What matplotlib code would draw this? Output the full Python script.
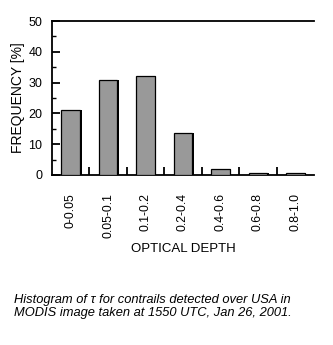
import matplotlib
matplotlib.use('Agg')
import matplotlib.pyplot as plt
import numpy as np

# histogram of optical depth for contrails
bins = ['0-0.05', '0.05-0.1', '0.1-0.2', '0.2-0.4', '0.4-0.6', '0.6-0.8', '0.8-1.0']
freq = [21, 31, 32, 13.5, 2, 0.5, 0.5]

plt.rcParams['font.family'] = ['Liberation Sans', 'DejaVu Sans']

fig = plt.figure(figsize=(3.33, 3.45), dpi=100)
ax = fig.add_axes([0.156, 0.493, 0.787, 0.446])

x = np.arange(len(bins))
# dark shadow on the right side of each bar
ax.bar(x + 0.04, freq, width=0.5, color='black', zorder=2)
ax.bar(x, freq, width=0.5, color='#999999', edgecolor='black', linewidth=0.9, zorder=3)

ax.set_xlim(-0.5, len(bins) - 0.5)
ax.set_ylim(0, 50)

ax.spines['right'].set_visible(False)
for s in ['left', 'top', 'bottom']:
    ax.spines[s].set_linewidth(1.3)

ax.set_yticks(np.arange(0, 51, 10))
ax.set_yticks(np.arange(5, 50, 10), minor=True)
ax.tick_params(axis='y', which='major', direction='in', length=6, width=1.3, labelsize=9, pad=7)
ax.tick_params(axis='y', which='minor', direction='in', length=3, width=1.0)

ax.set_xticks(x)
ax.set_xticklabels(bins, rotation=90, fontsize=8.7)
ax.set_xticks(x[:-1] + 0.5, minor=True)
ax.tick_params(axis='x', which='major', length=0, pad=13)
ax.tick_params(axis='x', which='minor', direction='in', length=6, width=1.3)
ax.tick_params(top=False)

ax.set_ylabel('FREQUENCY [%]', fontsize=10, labelpad=2)
ax.set_xlabel('OPTICAL DEPTH', fontsize=9.5, labelpad=4)

fig.text(0.042, 0.112, 'Histogram of τ for contrails detected over USA in\nMODIS image taken at 1550 UTC, Jan 26, 2001.',
         fontsize=9.3, style='italic', ha='left', va='center', linespacing=1.15)

fig.savefig('out.png', dpi=100)
